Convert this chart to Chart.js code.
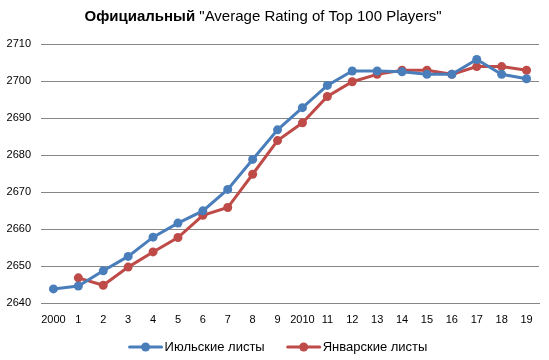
<!DOCTYPE html>
<html>
<head>
<meta charset="utf-8">
<script src="https://cdn.jsdelivr.net/npm/chart.js@4/dist/chart.umd.min.js"></script>
<style>
  html, body { margin: 0; padding: 0; background: #fff; }
  #wrap { position: relative; width: 549px; height: 360px; }
  canvas { display: block; }
</style>
</head>
<body>
<div id="wrap"><canvas id="c" width="549" height="360"></canvas></div>
<script>
const categories = ['2000','1','2','3','4','5','6','7','8','9','2010','11','12','13','14','15','16','17','18','19'];
const julyValues = [2643.8, 2644.6, 2648.7, 2652.6, 2657.8, 2661.6, 2664.9, 2670.7, 2678.8, 2686.8, 2692.8, 2698.8, 2702.7, 2702.7, 2702.5, 2701.8, 2701.8, 2705.8, 2701.8, 2700.6];
const januaryValues = [null, 2646.8, 2644.8, 2649.7, 2653.8, 2657.7, 2663.7, 2665.8, 2674.8, 2683.9, 2688.7, 2695.8, 2699.8, 2701.8, 2702.9, 2702.9, 2701.8, 2703.9, 2703.9, 2702.9];
const seriesNames = ['Июльские листы', 'Январские листы'];
const titleBold = 'Официальный';
const titleRest = ' "Average Rating of Top 100 Players"';
const yTicks = { min: 2640, max: 2710, step: 10 };

const BLUE = '#4a7ebb';
const RED = '#be4b48';
const FONT = '"Liberation Sans", Arial, sans-serif';

const titlePlugin = {
  id: 'mixedTitle',
  afterDraw(chart) {
    const ctx = chart.ctx;
    ctx.save();
    ctx.textBaseline = 'middle';
    ctx.fillStyle = '#000';
    const boldFont = 'bold 15px ' + FONT;
    const normFont = '15px ' + FONT;
    ctx.font = boldFont;
    const w1 = ctx.measureText(titleBold).width;
    ctx.font = normFont;
    const w2 = ctx.measureText(titleRest).width;
    const x0 = 263 - (w1 + w2) / 2;
    const y = 17;
    ctx.font = boldFont;
    ctx.textAlign = 'left';
    ctx.fillText(titleBold, x0, y);
    ctx.font = normFont;
    ctx.fillText(titleRest, x0 + w1, y);
    ctx.restore();
  }
};

const legendPlugin = {
  id: 'lineLegend',
  afterDraw(chart) {
    const ctx = chart.ctx;
    const ds = chart.data.datasets;
    ctx.save();
    ctx.font = '13px ' + FONT;
    ctx.textBaseline = 'middle';
    ctx.textAlign = 'left';
    const iconW = 34, gapIcon = 2, gapItem = 22;
    const widths = ds.map(d => iconW + gapIcon + ctx.measureText(d.label).width);
    const total = widths.reduce((a, b) => a + b, 0) + gapItem * (ds.length - 1);
    let x = 278 - total / 2;
    const y = 347;
    ds.forEach((d, i) => {
      ctx.strokeStyle = d.borderColor;
      ctx.lineWidth = 3;
      ctx.lineCap = 'round';
      ctx.beginPath(); ctx.moveTo(x + 1, y); ctx.lineTo(x + iconW - 1, y); ctx.stroke();
      ctx.fillStyle = d.borderColor;
      ctx.beginPath(); ctx.arc(x + iconW / 2, y, 4.5, 0, Math.PI * 2); ctx.fill();
      ctx.fillStyle = '#000';
      ctx.fillText(d.label, x + iconW + gapIcon, y);
      x += widths[i] + gapItem;
    });
    ctx.restore();
  }
};

new Chart(document.getElementById('c'), {
  type: 'line',
  data: {
    labels: categories,
    datasets: [
      {
        label: seriesNames[0], data: julyValues,
        borderColor: BLUE, backgroundColor: BLUE, borderWidth: 3,
        pointRadius: 4.5, pointBackgroundColor: BLUE, pointBorderWidth: 0,
        pointStyle: 'circle', tension: 0
      },
      {
        label: seriesNames[1], data: januaryValues,
        borderColor: RED, backgroundColor: RED, borderWidth: 3,
        pointRadius: 4.5, pointBackgroundColor: RED, pointBorderWidth: 0,
        pointStyle: 'circle', tension: 0
      }
    ]
  },
  options: {
    responsive: false,
    animation: false,
    devicePixelRatio: 1,
    layout: { padding: { top: 44, right: 10, left: 0, bottom: 28 } },
    plugins: {
      title: { display: false },
      tooltip: { enabled: false },
      legend: { display: false }
    },
    scales: {
      x: {
        offset: true,
        grid: { display: false, drawTicks: false },
        border: { display: true, color: '#868686', width: 1 },
        ticks: {
          autoSkip: false, maxRotation: 0, color: '#000', padding: 10,
          font: { family: FONT, size: 11 }
        },
        afterFit(scale) { scale.height = 29; }
      },
      y: {
        min: yTicks.min, max: yTicks.max,
        grid: { color: '#868686', lineWidth: 1, drawTicks: false },
        border: { display: false },
        ticks: {
          stepSize: yTicks.step, color: '#000', padding: 10,
          font: { family: FONT, size: 11 },
          callback: (v) => String(v)
        },
        afterFit(scale) { scale.width = 41; }
      }
    }
  },
  plugins: [titlePlugin, legendPlugin]
});
</script>
</body>
</html>
